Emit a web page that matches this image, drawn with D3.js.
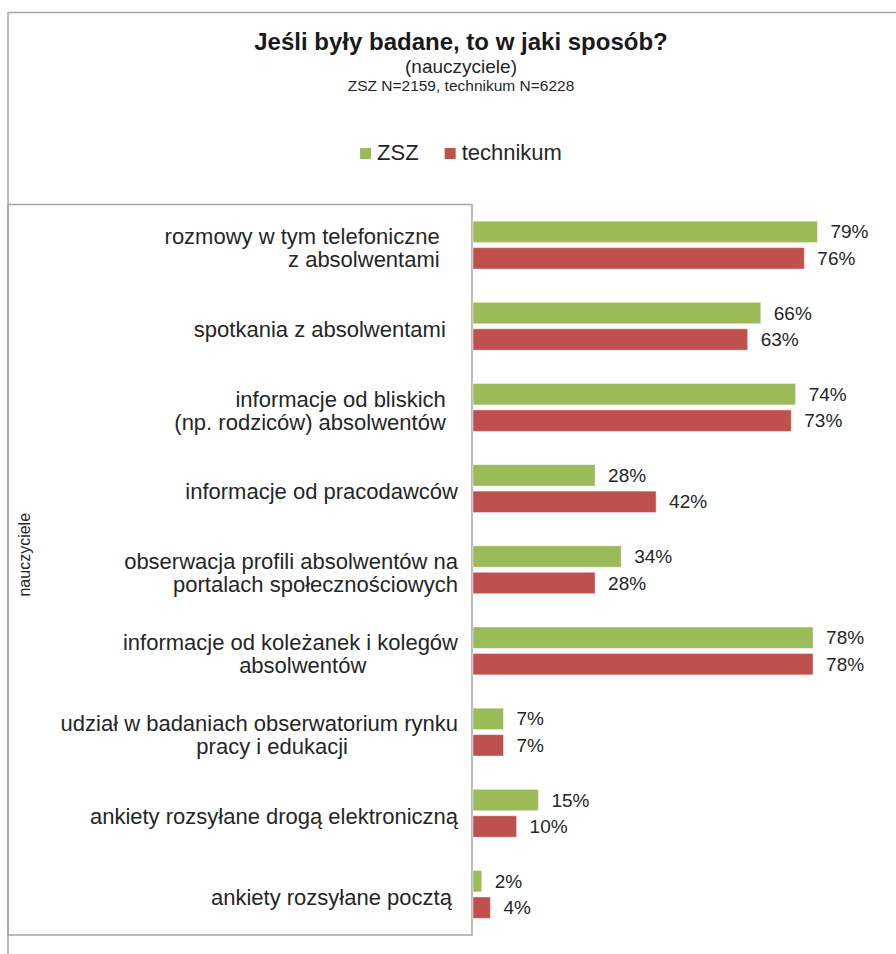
<!DOCTYPE html>
<html>
<head>
<meta charset="utf-8">
<script src="https://cdn.jsdelivr.net/npm/d3@7"></script>
<style>
  html, body { margin: 0; padding: 0; background: #fff; }
  svg { display: block; font-family: "Liberation Sans", Arial, sans-serif; }
  .cat { white-space: pre; }
</style>
</head>
<body>
<script>
// ---- data ----
const titleText = "Jeśli były badane, to w jaki sposób?";
const subtitle1 = "(nauczyciele)";
const subtitle2 = "ZSZ N=2159, technikum N=6228";
const axisTitle = "nauczyciele";
const seriesNames = ["ZSZ", "technikum"];
const seriesColors = ["#9BBB59", "#C0504D"];
const categories = [
  ["rozmowy w tym telefoniczne   ", "z absolwentami   "],
  ["spotkania z absolwentami  "],
  ["informacje od bliskich  ", "(np. rodziców) absolwentów  "],
  ["informacje od pracodawców"],
  ["obserwacja profili absolwentów na", "portalach społecznościowych"],
  ["informacje od koleżanek i kolegów", "absolwentów               "],
  ["udział w badaniach obserwatorium rynku", "pracy i edukacji                  "],
  ["ankiety rozsyłane drogą elektroniczną"],
  ["ankiety rozsyłane pocztą "]
];
const zszValues = [79, 66, 74, 28, 34, 78, 7, 15, 2];
const technikumValues = [76, 63, 73, 42, 28, 78, 7, 10, 4];

// ---- layout ----
const W = 896, H = 954;
const boxLeft = 8, boxTop = 204.5, axisX = 472, boxBottom = 935;
const textColor = "#262626";
const lineColor = "#a6a6a6";

const svg = d3.select("body").append("svg").attr("width", W).attr("height", H);

// outer border lines
svg.append("line").attr("x1", boxLeft).attr("x2", W).attr("y1", 12.5).attr("y2", 12.5)
  .attr("stroke", lineColor).attr("stroke-width", 1.5);
svg.append("line").attr("x1", boxLeft).attr("x2", boxLeft).attr("y1", 12).attr("y2", H)
  .attr("stroke", lineColor).attr("stroke-width", 1.5);

// category box
svg.append("rect").attr("x", boxLeft).attr("y", boxTop)
  .attr("width", axisX - boxLeft).attr("height", boxBottom - boxTop)
  .attr("fill", "none").attr("stroke", lineColor).attr("stroke-width", 1.5);

// titles
const cx = 461;
svg.append("text").attr("x", cx).attr("y", 50).attr("text-anchor", "middle")
  .attr("font-size", 24).attr("font-weight", "bold").attr("fill", "#1a1a1a").text(titleText);
svg.append("text").attr("x", cx).attr("y", 73).attr("text-anchor", "middle")
  .attr("font-size", 19).attr("fill", textColor).text(subtitle1);
svg.append("text").attr("x", cx).attr("y", 91).attr("text-anchor", "middle")
  .attr("font-size", 15.5).attr("fill", textColor).text(subtitle2);

// legend
const legend = svg.append("g");
let lx = 0;
seriesNames.forEach((name, i) => {
  const g = legend.append("g").attr("transform", `translate(${lx},0)`);
  g.append("rect").attr("x", 0).attr("y", -12).attr("width", 11).attr("height", 11)
    .attr("fill", seriesColors[i]);
  const t = g.append("text").attr("x", 17).attr("y", 0).attr("font-size", 22)
    .attr("fill", textColor).text(name);
  lx += 17 + t.node().getComputedTextLength() + 26;
});
const legW = lx - 26;
legend.attr("transform", `translate(${cx - legW / 2},160)`);

// scales
const x = d3.scaleLinear().domain([0, 100]).range([axisX + 1, 909]);
const y0 = d3.scaleBand().domain(d3.range(categories.length))
  .range([boxTop, boxBottom]).paddingInner(0.41).paddingOuter(0.205);
const y1 = d3.scaleBand().domain([0, 1]).range([0, y0.bandwidth()]).paddingInner(0.19);

const data = categories.map((c, i) => ({ i, lines: c, vals: [zszValues[i], technikumValues[i]] }));

// bars
const groups = svg.append("g").selectAll("g").data(data).join("g")
  .attr("transform", d => `translate(0,${y0(d.i)})`);
groups.selectAll("rect").data(d => d.vals.map((v, s) => ({ v, s }))).join("rect")
  .attr("x", x(0)).attr("y", d => y1(d.s))
  .attr("width", d => x(d.v) - x(0)).attr("height", y1.bandwidth())
  .attr("fill", d => seriesColors[d.s])
  .attr("stroke", "#ffffff").attr("stroke-opacity", 0.45).attr("stroke-width", 1);
groups.selectAll("text").data(d => d.vals.map((v, s) => ({ v, s }))).join("text")
  .attr("x", d => x(d.v) + 13).attr("y", d => y1(d.s) + y1.bandwidth() / 2)
  .attr("dy", "0.35em").attr("font-size", 19).attr("fill", textColor)
  .text(d => d.v + "%");

// category labels
const lineH = 23;
const catG = svg.append("g").selectAll("text").data(data).join("text")
  .attr("class", "cat").attr("text-anchor", "end").attr("font-size", 22).attr("fill", textColor)
  .attr("y", d => y0(d.i) + y0.bandwidth() / 2 + 3 - (d.lines.length - 1) * lineH / 2)
  .attr("dy", "0.35em");
catG.selectAll("tspan").data(d => d.lines.map((l, k) => ({ l, k }))).join("tspan")
  .attr("x", 458).attr("dy", d => d.k === 0 ? "0.35em" : lineH).text(d => d.l);

// axis title
svg.append("text").attr("transform", `translate(30,${(boxTop + boxBottom) / 2 - 15}) rotate(-90)`)
  .attr("text-anchor", "middle").attr("font-size", 16).attr("fill", textColor).text(axisTitle);
</script>
</body>
</html>
